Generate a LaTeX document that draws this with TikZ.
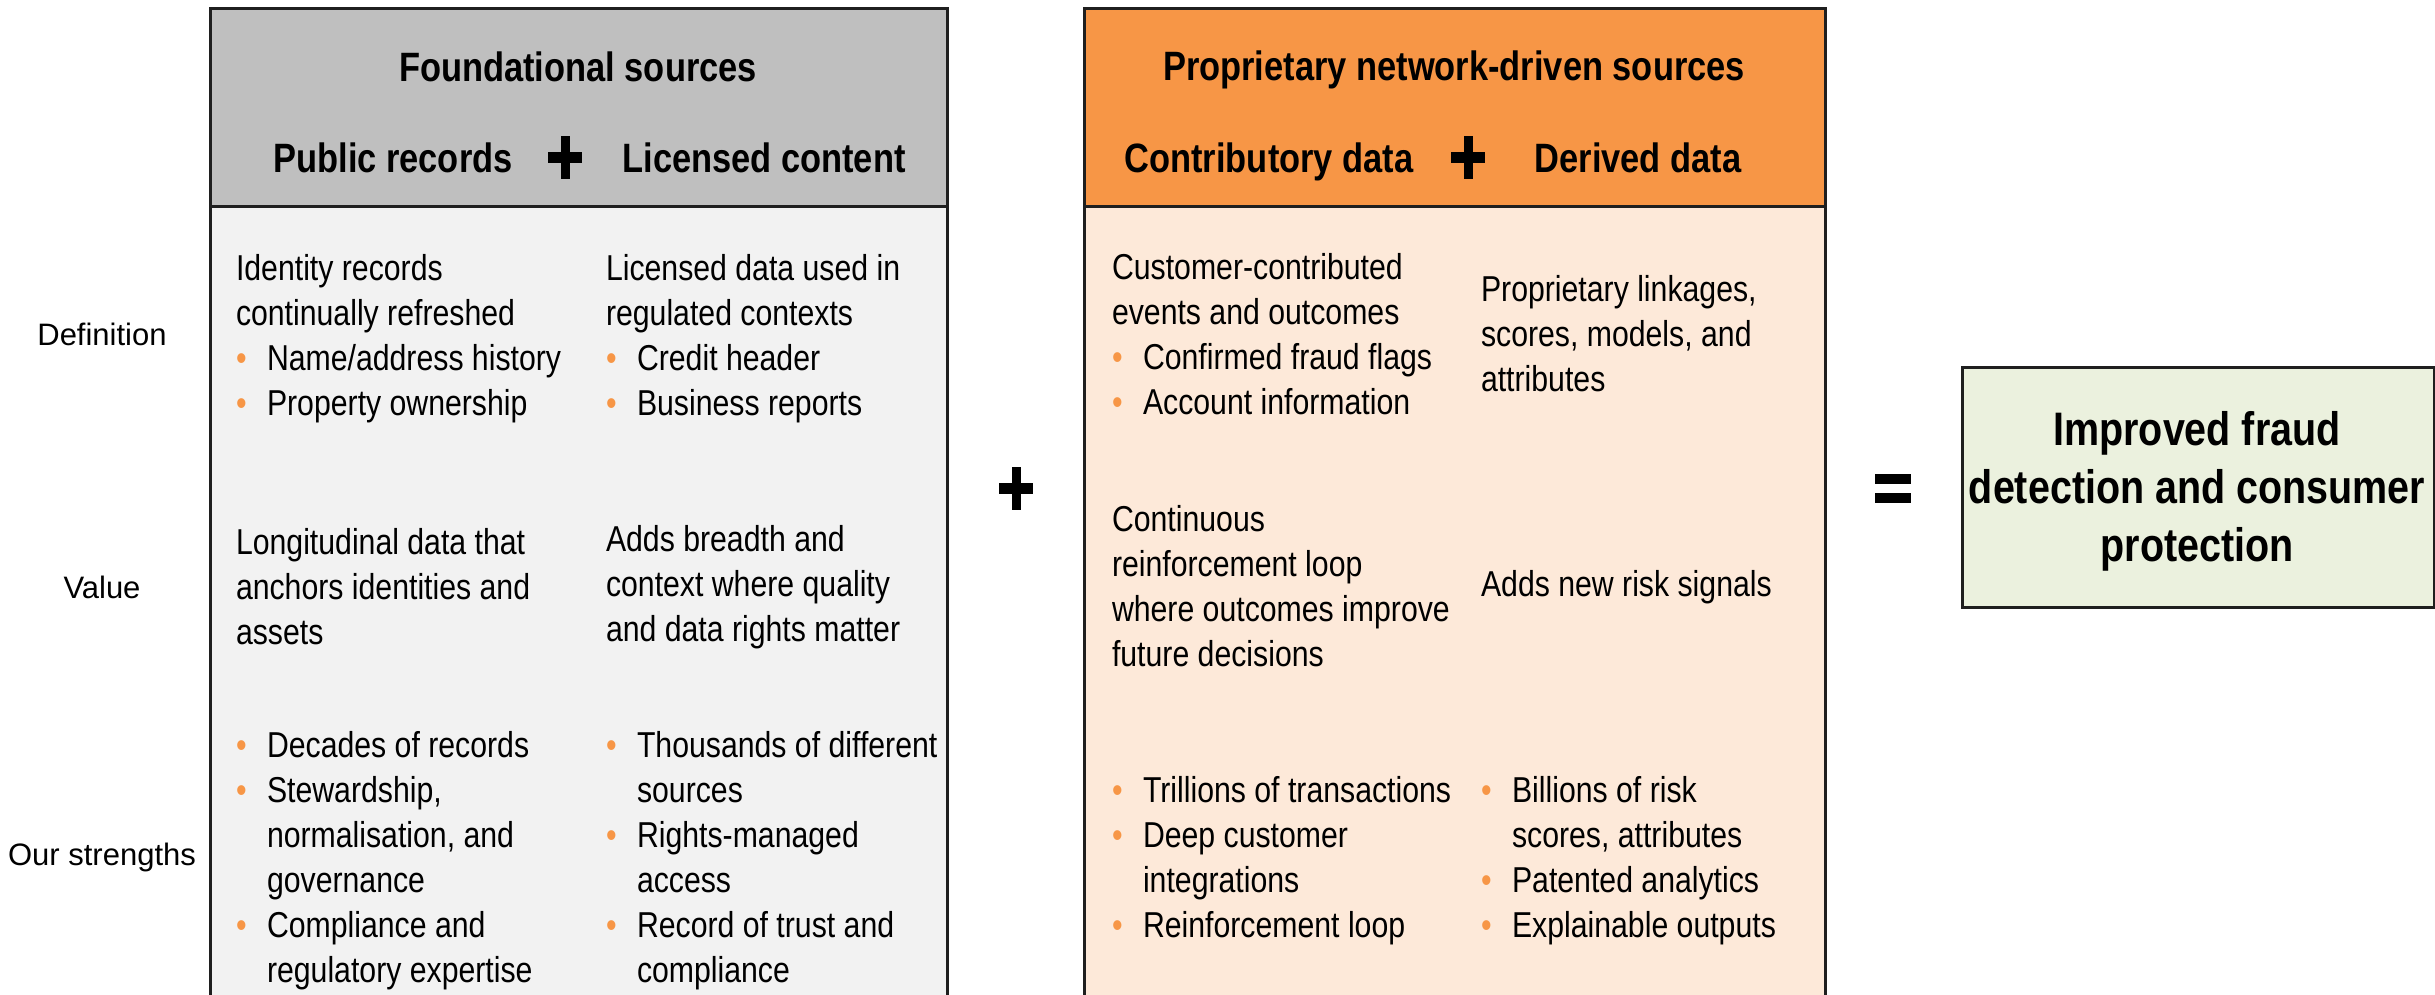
\documentclass[tikz,border=0pt]{standalone}
\usepackage{fontspec}
\setmainfont{Liberation Sans}[FakeStretch=0.84]
\newfontfamily\labelfont{Liberation Sans}
\definecolor{grayhead}{HTML}{BFBFBF}
\definecolor{graybody}{HTML}{F2F2F2}
\definecolor{orangehead}{HTML}{F79646}
\definecolor{orangebody}{HTML}{FDE9D9}
\definecolor{resultfill}{HTML}{EBF1DE}
\definecolor{bordercol}{HTML}{1F1F1F}
\definecolor{bulletcol}{HTML}{F79646}
\newcommand{\bul}{\makebox[31pt][l]{\textcolor{bulletcol}{\textbullet}}}
\newcommand{\ind}{\hspace*{31pt}}
\tikzset{
  body/.style={anchor=west, inner sep=0pt, outer sep=0pt, align=left, font=\fontsize{36}{45}\selectfont},
  rowlabel/.style={inner sep=0pt, font=\labelfont\fontsize{31}{38}\selectfont},
  headtext/.style={inner sep=0pt, font=\bfseries\fontsize{41}{49}\selectfont},
  restext/.style={inner sep=0pt, align=center, font=\bfseries\fontsize{47}{58}\selectfont},
  panel/.style={draw=bordercol, line width=3pt},
  plusmark/.pic={\fill[black] (-17,-5.5) rectangle (17,5.5); \fill[black] (-4.5,-21.5) rectangle (4.5,21.5);},
  equalmark/.pic={\fill[black] (-18,-14.5) rectangle (18,-4.5); \fill[black] (-18,4.5) rectangle (18,14.5);}
}
\begin{document}
\begin{tikzpicture}[x=1pt,y=-1pt]
\useasboundingbox (0,0) rectangle (2435,994);
\clip (0,0) rectangle (2435,994);
% left panel
\fill[graybody] (210,206) rectangle (947,1010);
\fill[grayhead] (210,8) rectangle (947,206);
\draw[panel] (210,1010) -- (210,8) -- (947,8) -- (947,1010);
\draw[panel] (210,206) -- (947,206);
% right panel
\fill[orangebody] (1084,206) rectangle (1825,1010);
\fill[orangehead] (1084,8) rectangle (1825,206);
\draw[panel] (1084,1010) -- (1084,8) -- (1825,8) -- (1825,1010);
\draw[panel] (1084,206) -- (1825,206);
% result box
\node[panel, fill=resultfill, minimum width=472pt, minimum height=240pt, inner sep=0pt, anchor=north west] (result) at (1961,366) {};
\node[restext] (restxt) at (2197,491) {Improved fraud\\detection and consumer\\protection};

% headers
\node[headtext] (fhead) at (578,67) {Foundational sources};
\node[headtext] (pubrec) at (393,158) {Public records};
\pic at (565,157) {plusmark};
\node[headtext] (licont) at (764,158) {Licensed content};
\node[headtext] (phead) at (1454,70) {Proprietary network-driven sources};
\node[headtext] (contrib) at (1269,162) {Contributory data};
\pic at (1468,157) {plusmark};
\node[headtext] (derived) at (1638,158) {Derived data};

% between marks
\pic at (1016,488) {plusmark};
\pic at (1893,488) {equalmark};

% row labels
\node[rowlabel] (ldef) at (102,334) {Definition};
\node[rowlabel] (lval) at (102,587) {Value};
\node[rowlabel] (lstr) at (102,857) {Our strengths};

% definition row
\node[body] (d1) at (236,339) {Identity records\\continually refreshed\\\bul Name/address history\\\bul Property ownership};
\node[body] (d2) at (606,339) {Licensed data used in\\regulated contexts\\\bul Credit header\\\bul Business reports};
\node[body] (d3) at (1112,334) {Customer-contributed\\events and outcomes\\\bul Confirmed fraud flags\\\bul Account information};
\node[body] (d4) at (1481,334) {Proprietary linkages,\\scores, models, and\\attributes};

% value row
\node[body] (v1) at (236,587) {Longitudinal data that\\anchors identities and\\assets};
\node[body] (v2) at (606,587) {Adds breadth and\\context where quality\\and data rights matter};
\node[body] (v3) at (1112,586) {Continuous\\reinforcement loop\\where outcomes improve\\future decisions};
\node[body] (v4) at (1481,587) {Adds new risk signals};

% strengths row
\node[body] (s1) at (236,861) {\bul Decades of records\\\bul Stewardship,\\\ind normalisation, and\\\ind governance\\\bul Compliance and\\\ind regulatory expertise};
\node[body] (s2) at (606,861) {\bul Thousands of different\\\ind sources\\\bul Rights-managed\\\ind access\\\bul Record of trust and\\\ind compliance};
\node[body] (s3) at (1112,861) {\bul Trillions of transactions\\\bul Deep customer\\\ind integrations\\\bul Reinforcement loop};
\node[body] (s4) at (1481,861) {\bul Billions of risk\\\ind scores, attributes\\\bul Patented analytics\\\bul Explainable outputs};
\end{tikzpicture}
\end{document}
